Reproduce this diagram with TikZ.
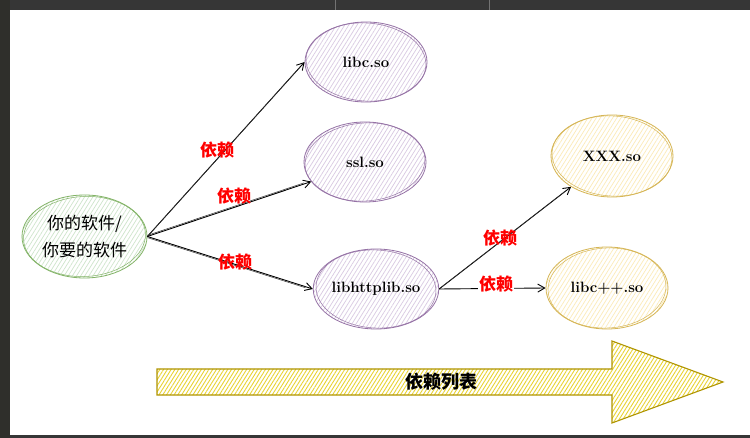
\documentclass[tikz,border=0pt]{standalone}
\usepackage{fontspec}
\newfontfamily\cjk{Noto Sans CJK SC}
\usetikzlibrary{patterns.meta,arrows.meta,shapes.geometric}
\definecolor{pstroke}{HTML}{9673A6}
\definecolor{pfill}{HTML}{D9CAE2}
\definecolor{gstroke}{HTML}{82B366}
\definecolor{gfill}{HTML}{CFE5CC}
\definecolor{ystroke}{HTML}{D6B656}
\definecolor{yfill}{HTML}{FCEBB8}
\definecolor{astroke}{HTML}{B09500}
\definecolor{afill}{HTML}{E3C800}
\definecolor{darkbg}{HTML}{363636}
\definecolor{darkside}{HTML}{2F2F2B}
\begin{document}
\begin{tikzpicture}[x=1pt,y=-1pt,
  blob/.style={ellipse, inner sep=0pt, line width=0.8pt,
    font=\fontsize{15}{18}\selectfont\bfseries},
  purp/.style={blob, draw=pstroke, minimum width=122pt, minimum height=80pt,
    pattern={Lines[angle=58,distance=3.5pt,line width=0.7pt]}, pattern color=pfill},
  yell/.style={blob, draw=ystroke, minimum width=122pt, minimum height=82pt,
    pattern={Lines[angle=58,distance=3.5pt,line width=0.7pt]}, pattern color=yfill},
  gree/.style={blob, draw=gstroke, minimum width=125pt, minimum height=83pt,
    pattern={Lines[angle=58,distance=3.5pt,line width=0.7pt]}, pattern color=gfill,
    font=\fontsize{17}{27}\selectfont\cjk, align=center},
  ring/.style={line width=0.5pt},
  dep/.style={font=\fontsize{17}{20}\selectfont\cjk\bfseries, text=red, inner sep=1pt},
  link/.style={draw=black, line width=0.9pt, -{Straight Barb[length=7pt,width=8pt]}},
  link2/.style={draw=black!80, line width=0.5pt, shorten >=8pt},
  bigarrow/.style={draw=astroke, line width=1.1pt,
    pattern={Lines[angle=58,distance=3.2pt,line width=0.9pt]}, pattern color=afill!80},
  bartext/.style={font=\fontsize{18}{20}\selectfont\cjk\bfseries, text=black}
]
\useasboundingbox (0,0) rectangle (750,438);
% frame
\fill[white] (0,0) rectangle (750,438);
\fill[darkbg] (0,0) rectangle (750,10);
\fill[darkbg] (0,435) rectangle (750,438);
\fill[darkside] (0,0) rectangle (10,438);
\draw[black!55,line width=0.6pt] (335,0) -- (335,10);
\draw[black!55,line width=0.6pt] (489,0) -- (489,10);

% nodes
\node[gree] (app) at (84.5,236.5) {你的软件/\\你要的软件};
\node[purp] (libc) at (366,62) {libc.so};
\node[purp] (ssl) at (365,162) {ssl.so};
\node[purp] (httplib) at (376,289) {libhttplib.so};
\node[yell] (xxx) at (612,156) {XXX.so};
\node[yell] (libcpp) at (607,288) {libc++.so};

% second sketch strokes
\draw[ring,gstroke,rotate around={3:(app.center)}] (app.center) ellipse [x radius=61pt, y radius=40pt];
\draw[ring,pstroke,rotate around={-4:(libc.center)}] (libc.center) ellipse [x radius=60pt, y radius=39pt];
\draw[ring,pstroke,rotate around={4:(ssl.center)}] (ssl.center) ellipse [x radius=60pt, y radius=39pt];
\draw[ring,pstroke,rotate around={-3:(httplib.center)}] (httplib.center) ellipse [x radius=60pt, y radius=39pt];
\draw[ring,ystroke,rotate around={-4:(xxx.center)}] (xxx.center) ellipse [x radius=60pt, y radius=40pt];
\draw[ring,ystroke,rotate around={3:(libcpp.center)}] (libcpp.center) ellipse [x radius=59pt, y radius=40pt];

% connectors
\draw[link] (app.east) -- (libc.west);
\draw[link2,transform canvas={shift={(0.9pt,0.9pt)}}] (app.east) -- (libc.west);
\draw[link] (app.east) -- (ssl.200);
\draw[link2,transform canvas={shift={(0.3pt,1.2pt)}}] (app.east) -- (ssl.200);
\draw[link] (app.east) -- (httplib.west);
\draw[link2,transform canvas={shift={(0.3pt,-1.2pt)}}] (app.east) -- (httplib.west);
\draw[link] (httplib.east) -- (xxx.217);
\draw[link2,transform canvas={shift={(0.9pt,0.9pt)}}] (httplib.east) -- (xxx.217);
\draw[link] (httplib.east) -- (libcpp.west);

% labels
\node[dep] (d1) at (217,150) {依赖};
\node[dep] (d2) at (234,196) {依赖};
\node[dep] (d3) at (235,262) {依赖};
\node[dep] (d4) at (500,238) {依赖};
\node[dep,fill=white] (d5) at (496,284) {依赖};

% big arrow
\draw[bigarrow] (157,369) -- (612,369) -- (612,341) -- (723,382) -- (612,423) -- (612,395) -- (157,395) -- cycle;
\node[bartext] (list) at (441,382) {依赖列表};
\end{tikzpicture}
\end{document}
